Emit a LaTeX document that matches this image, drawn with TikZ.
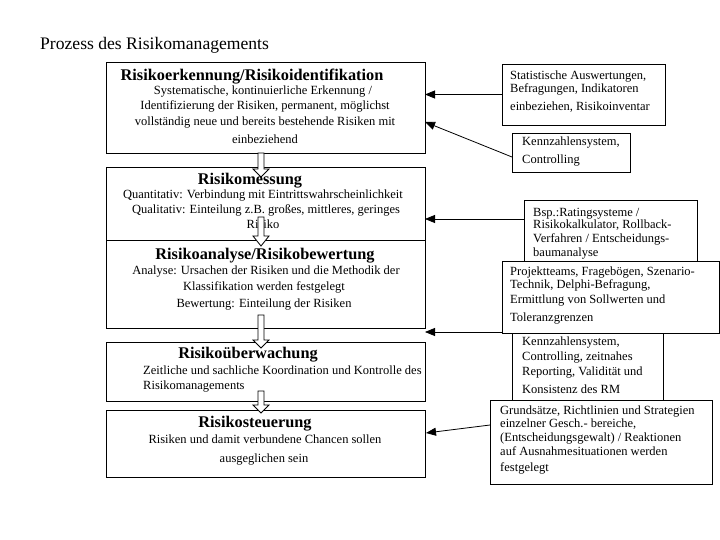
\documentclass[tikz,border=0pt]{standalone}
\usepackage{fontspec}
\setmainfont{Liberation Serif}
\usetikzlibrary{arrows.meta}
\tikzset{
  box/.style={draw, line width=0.8pt, fill=white, inner sep=0pt, outer sep=0pt},
  ttl/.style={font=\fontsize{16.3}{18}\selectfont\bfseries, inner sep=0pt, text height=11pt, text depth=4pt},
  txt/.style={font=\fontsize{12.5}{14}\selectfont, inner sep=0pt, text height=9pt, text depth=3pt},
  conn/.style={line width=0.8pt, -{Triangle[length=10pt,width=8pt]}},
  hollow/.style={draw, line width=0.8pt, fill=white}
}
\newcommand\downarr[4]{% x, top, wing, tip
  \draw[hollow] (#1-3,#2) -- (#1+3,#2) -- (#1+3,#3) -- (#1+8,#3) -- (#1,#4) -- (#1-8,#3) -- (#1-3,#3) -- cycle;}
\begin{document}
\begin{tikzpicture}[x=1pt,y=-1pt]
\useasboundingbox (0,0) rectangle (720,540);

\node[font=\fontsize{17.6}{19}\selectfont, inner sep=0pt, anchor=west, text height=12pt, text depth=4pt] (title) at (40,46) {Prozess des Risikomanagements};

% left boxes
\node[box, minimum width=319pt, minimum height=91pt] (b1) at (265.5,107.5) {};
\node[box, minimum width=319pt, minimum height=73pt] (b2) at (265.5,203.5) {};
\node[box, minimum width=319pt, minimum height=88pt] (b3) at (265.5,284) {};
\node[box, minimum width=319pt, minimum height=59pt] (b4) at (265.5,371.5) {};
\node[box, minimum width=319pt, minimum height=67pt] (b5) at (265.5,443.5) {};

% box 1 text
\node[ttl] (b1h) at (252,77) {Risikoerkennung/Risikoidentifikation};
\node[txt] (b1a) at (263,92) {Systematische, kontinuierliche Erkennung /};
\node[txt] (b1b) at (265,107) {Identifizierung der Risiken, permanent, möglichst};
\node[txt] (b1c) at (265,123) {vollständig neue und bereits bestehende Risiken mit};
\node[txt] (b1d) at (265,141) {einbeziehend};

% box 2 text
\node[ttl] (b2h) at (250,181) {Risikomessung};
\node[txt] (b2a) at (263,196) {Quantitativ: Verbindung mit Eintrittswahrscheinlichkeit};
\node[txt] (b2b) at (266,211) {Qualitativ: Einteilung z.B. großes, mittleres, geringes};
\node[txt] (b2c) at (263,226) {Risiko};

% box 3 text
\node[ttl] (b3h) at (265,256) {Risikoanalyse/Risikobewertung};
\node[txt] (b3a) at (266,271) {Analyse: Ursachen der Risiken und die Methodik der};
\node[txt] (b3b) at (264,287) {Klassifikation werden festgelegt};
\node[txt] (b3c) at (264,304) {Bewertung: Einteilung der Risiken};

% box 4 text
\node[ttl] (b4h) at (248,355) {Risikoüberwachung};
\node[txt, anchor=west] (b4a) at (143,371) {Zeitliche und sachliche Koordination und Kontrolle des};
\node[txt, anchor=west] (b4b) at (143,386) {Risikomanagements};

% box 5 text
\node[ttl] (b5h) at (255,424) {Risikosteuerung};
\node[txt] (b5a) at (265,440) {Risiken und damit verbundene Chancen sollen};
\node[txt] (b5b) at (264,459) {ausgeglichen sein};

% hollow arrows
\downarr{261}{153}{169}{177}
\downarr{261}{217}{236}{246}
\downarr{261}{315}{340}{348}
\downarr{261}{391}{405}{413}

% right boxes
\node[box, minimum width=163pt, minimum height=61pt] (r1) at (583.5,94.5) {};
\node[txt, anchor=west] (r1a) at (510,77) {Statistische Auswertungen,};
\node[txt, anchor=west] (r1b) at (510,90) {Befragungen, Indikatoren};
\node[txt, anchor=west] (r1c) at (510,108) {einbeziehen, Risikoinventar};

\node[box, minimum width=118pt, minimum height=39pt] (r2) at (571,152.5) {};
\node[txt, anchor=west] (r2a) at (522,143) {Kennzahlensystem,};
\node[txt, anchor=west] (r2b) at (522,161) {Controlling};

\node[box, minimum width=173pt, minimum height=62pt] (r3) at (610.5,231) {};
\node[txt, anchor=west] (r3a) at (533,213) {Bsp.:Ratingsysteme /};
\node[txt, anchor=west] (r3b) at (533,226) {Risikokalkulator, Rollback-};
\node[txt, anchor=west] (r3c) at (533,240) {Verfahren / Entscheidungs-};
\node[txt, anchor=west] (r3d) at (533,253) {baumanalyse};

\node[box, minimum width=151pt, minimum height=73pt] (r5) at (587.5,369.5) {};
\node[txt, anchor=west] (r5a) at (522,342) {Kennzahlensystem,};
\node[txt, anchor=west] (r5b) at (522,357) {Controlling, zeitnahes};
\node[txt, anchor=west] (r5c) at (522,372) {Reporting, Validität und};
\node[txt, anchor=west] (r5d) at (522,390) {Konsistenz des RM};

\node[box, minimum width=217.5pt, minimum height=72pt] (r4) at (610.75,297) {};
\node[txt, anchor=west] (r4a) at (510,272) {Projektteams, Fragebögen, Szenario-};
\node[txt, anchor=west] (r4b) at (510,285) {Technik, Delphi-Befragung,};
\node[txt, anchor=west] (r4c) at (510,300) {Ermittlung von Sollwerten und};
\node[txt, anchor=west] (r4d) at (510,318) {Toleranzgrenzen};

\node[box, minimum width=222pt, minimum height=84pt] (r6) at (601,442) {};
\node[txt, anchor=west] (r6a) at (500,411) {Grundsätze, Richtlinien und Strategien};
\node[txt, anchor=west] (r6b) at (500,424) {einzelner Gesch.- bereiche,};
\node[txt, anchor=west] (r6c) at (500,438) {(Entscheidungsgewalt) / Reaktionen};
\node[txt, anchor=west] (r6d) at (500,452) {auf Ausnahmesituationen werden};
\node[txt, anchor=west] (r6e) at (500,468) {festgelegt};

% connector end points
\coordinate (r1s) at (r1.west);
\coordinate (b1t1) at (r1.west -| b1.east);
\coordinate (r2s) at ([yshift=-4.5pt]r2.west);
\coordinate (b1t2) at (425,122);
\coordinate (r3s) at ([yshift=12pt]r3.west);
\coordinate (b2t) at (r3s -| b2.east);
\coordinate (r4s) at ([yshift=-35pt]r4.west);
\coordinate (b3t) at (r4s -| b3.east);
\coordinate (r6s) at ([yshift=17pt]r6.west);
\coordinate (b5t) at (426,433);

\draw[conn] (r1s) -- (b1t1);
\draw[conn] (r2s) -- (b1t2);
\draw[conn] (r3s) -- (b2t);
\draw[conn] (r4s) -- (b3t);
\draw[conn] (r6s) -- (b5t);
\end{tikzpicture}
\end{document}
